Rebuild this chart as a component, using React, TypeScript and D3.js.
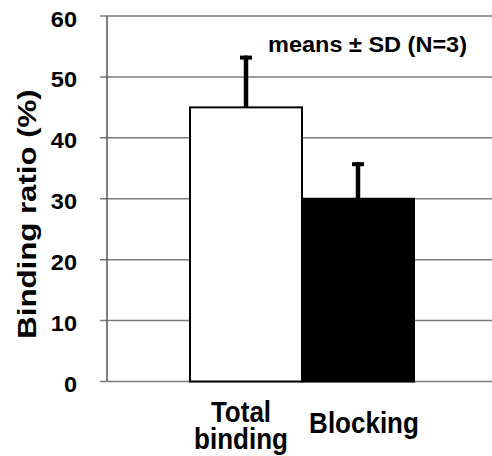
import React from "react";
import * as d3 from "d3";

const categories = ["Total binding", "Blocking"];
const categoryLines = [["Total", "binding"], ["Blocking"]];
const means = [45, 30];
const sds = [8.5, 6];
const barFills = ["#ffffff", "#000000"];
const yTicks = [0, 10, 20, 30, 40, 50, 60];
const annotation = "means ± SD (N=3)";
const yTitle = "Binding ratio (%)";

const W = 492;
const H = 456;
const axisX = 107;
const FONT = "'Liberation Sans', Arial, Helvetica, sans-serif";

export default function App() {
  const y = d3.scaleLinear().domain([0, 60]).range([381.5, 16]);
  const x = d3.scaleBand<string>().domain(categories).range([190, 414]).paddingInner(0).paddingOuter(0);
  const bw = x.bandwidth();
  const labelOffsets = [-5, 6];

  return (
    <svg width={W} height={H} style={{ position: "absolute", left: 0, top: 0, background: "#fff" }}>
      {/* gridlines */}
      {yTicks.map((t) => (
        <line key={"g" + t} x1={axisX - 7} x2={W} y1={y(t)} y2={y(t)} stroke="#7a7a7a" strokeWidth={1.5} />
      ))}
      {/* bars */}
      {categories.map((c, i) => (
        <rect
          key={"b" + c}
          x={x(c)!}
          y={y(means[i])}
          width={bw}
          height={y(0) - y(means[i])}
          fill={barFills[i]}
          stroke="#000"
          strokeWidth={2}
        />
      ))}
      {/* error bars */}
      {categories.map((c, i) => {
        const cx = x(c)! + bw / 2;
        return (
          <g key={"e" + c}>
            <line x1={cx} x2={cx} y1={y(means[i])} y2={y(means[i] + sds[i])} stroke="#000" strokeWidth={4.5} />
            <line x1={cx - 6} x2={cx + 6} y1={y(means[i] + sds[i]) + 2} y2={y(means[i] + sds[i]) + 2} stroke="#000" strokeWidth={4} />
          </g>
        );
      })}
      {/* y axis */}
      <line x1={axisX} x2={axisX} y1={y(60)} y2={y(0)} stroke="#555" strokeWidth={1.5} />
      {yTicks.map((t) => (
        <text
          key={"t" + t}
          transform={`translate(77,${y(t) + 10.5}) scale(1.12,1.05)`}
          textAnchor="end"
          fontFamily={FONT}
          fontWeight="bold"
          fontSize={21}
          fill="#000"
        >
          {t}
        </text>
      ))}
      {/* y title */}
      <text
        transform={`translate(36,214) rotate(-90) scale(1.2,1)`}
        textAnchor="middle"
        fontFamily={FONT}
        fontWeight="bold"
        fontSize={26}
        fill="#000"
      >
        {yTitle}
      </text>
      {/* annotation */}
      <text
        transform="translate(268,52) scale(1,1.08)"
        textLength={199}
        lengthAdjust="spacingAndGlyphs"
        fontFamily={FONT}
        fontWeight="bold"
        fontSize={21}
        fill="#000"
      >
        {annotation}
      </text>
      {/* category labels */}
      {categories.map((c, i) => {
        const cx = x(c)! + bw / 2 + labelOffsets[i];
        const lines = categoryLines[i];
        const baseY = lines.length > 1 ? 422 : 433;
        return (
          <g key={"c" + c}>
            {lines.map((l, j) => (
              <text
                key={l}
                transform={`translate(${cx},${baseY + j * 27}) scale(1,1.12)`}
                textAnchor="middle"
                fontFamily={FONT}
                fontWeight="bold"
                fontSize={26}
                fill="#000"
              >
                {l}
              </text>
            ))}
          </g>
        );
      })}
    </svg>
  );
}
